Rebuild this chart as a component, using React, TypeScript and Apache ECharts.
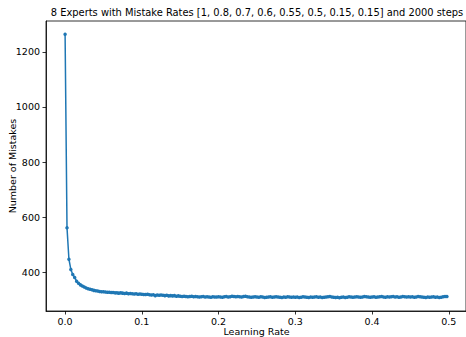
import React, { useEffect, useRef } from "react";
import * as echarts from "echarts";

const TITLE = "8 Experts with Mistake Rates [1, 0.8, 0.7, 0.6, 0.55, 0.5, 0.15, 0.15] and 2000 steps";
const X_LABEL = "Learning Rate";
const Y_LABEL = "Number of Mistakes";

const LR_START = 0;
const LR_STEP = 0.0025;

const MISTAKES: number[] = [
  1264, 561, 447, 410, 392, 381, 367, 360, 354, 350,
  346, 343, 340, 338, 336, 334, 333, 332, 330, 329,
  329, 328, 327, 327, 326, 326, 325, 325, 324, 325,
  324, 323, 324, 322, 323, 322, 321, 322, 320, 321,
  320, 319, 319, 320, 318, 317, 318, 315, 317, 316,
  317, 316, 315, 316, 314, 315, 314, 315, 313, 314,
  313, 312, 313, 312, 311, 312, 313, 311, 312, 311,
  310, 311, 312, 310, 311, 310, 309, 311, 310, 310,
  311, 310, 309, 311, 312, 310, 311, 313, 312, 311,
  312, 311, 310, 312, 313, 311, 310, 309, 310, 311,
  310, 309, 311, 310, 308, 309, 310, 311, 309, 310,
  311, 310, 309, 308, 310, 309, 311, 310, 309, 310,
  309, 310, 308, 309, 311, 310, 309, 308, 310, 309,
  310, 311, 309, 310, 308, 309, 310, 311, 312, 310,
  309, 308, 309, 307, 309, 310, 308, 309, 311, 310,
  309, 310, 311, 310, 309, 310, 312, 311, 310, 309,
  310, 311, 309, 310, 311, 312, 310, 309, 311, 310,
  311, 312, 310, 311, 309, 310, 312, 311, 310, 311,
  310, 311, 309, 310, 312, 311, 310, 309, 308, 310,
  309, 310, 311, 309, 310, 308, 309, 311, 312, 312,
];

const X_TICKS = [0, 0.1, 0.2, 0.3, 0.4, 0.5];
const Y_TICKS = [400, 600, 800, 1000, 1200];

export default function App() {
  const ref = useRef<HTMLDivElement>(null);
  useEffect(() => {
    if (!ref.current) return;
    const chart = echarts.init(ref.current, null, { renderer: "svg" });
    const data = MISTAKES.map((v, i) => [LR_START + i * LR_STEP, v]);
    const xs = data.map((d) => d[0]);
    const xMinD = Math.min(...xs);
    const xMaxD = Math.max(...xs);
    const yMinD = Math.min(...MISTAKES);
    const yMaxD = Math.max(...MISTAKES);
    const xm = (xMaxD - xMinD) * 0.05;
    const ym = (yMaxD - yMinD) * 0.05;
    const font = "DejaVu Sans";
    const labelSize = 9.5;
    chart.setOption({
      animation: false,
      backgroundColor: "#ffffff",
      grid: {
        left: 46,
        top: 21,
        width: 421,
        height: 290,
        show: true,
        borderColor: "#000000",
        borderWidth: 0.8,
        backgroundColor: "transparent",
      },
      graphic: [
        {
          type: "text",
          x: 257,
          y: 12,
          style: {
            text: TITLE,
            fontFamily: font,
            fontSize: 9.9,
            fill: "#000",
            textAlign: "center",
            textVerticalAlign: "middle",
          },
        },
        {
          type: "text",
          x: 256.5,
          y: 331,
          style: {
            text: X_LABEL,
            fontFamily: font,
            fontSize: labelSize,
            fill: "#000",
            textAlign: "center",
            textVerticalAlign: "middle",
          },
        },
        {
          type: "text",
          x: 12,
          y: 166,
          rotation: Math.PI / 2,
          style: {
            text: Y_LABEL,
            fontFamily: font,
            fontSize: labelSize,
            fill: "#000",
            textAlign: "center",
            textVerticalAlign: "middle",
          },
        },
      ],
      xAxis: {
        type: "value",
        min: xMinD - xm,
        max: xMaxD + xm,
        splitLine: { show: false },
        axisLine: { show: true, onZero: false, lineStyle: { color: "#000", width: 0.8 } },
        axisTick: {
          show: true,
          length: 3.5,
          inside: false,
          customValues: X_TICKS,
          lineStyle: { color: "#000", width: 0.8 },
        },
        axisLabel: {
          customValues: X_TICKS,
          formatter: (v: number) => v.toFixed(1),
          fontFamily: font,
          fontSize: labelSize,
          color: "#000",
          margin: 5,
        },
      },
      yAxis: {
        type: "value",
        min: yMinD - ym,
        max: yMaxD + ym,
        splitLine: { show: false },
        axisLine: { show: true, onZero: false, lineStyle: { color: "#000", width: 0.8 } },
        axisTick: {
          show: true,
          length: 3.5,
          inside: false,
          customValues: Y_TICKS,
          lineStyle: { color: "#000", width: 0.8 },
        },
        axisLabel: {
          customValues: Y_TICKS,
          formatter: (v: number) => String(Math.round(v)),
          fontFamily: font,
          fontSize: labelSize,
          color: "#000",
          margin: 6,
        },
      },
      series: [
        {
          type: "line",
          data,
          symbol: "circle",
          symbolSize: 3.5,
          showSymbol: true,
          itemStyle: { color: "#1f77b4" },
          lineStyle: { color: "#1f77b4", width: 1.5 },
        },
      ],
    });
    return () => chart.dispose();
  }, []);
  return (
    <div
      ref={ref}
      style={{ position: "fixed", left: 0, top: 0, width: 466, height: 337, overflow: "hidden" }}
    />
  );
}
